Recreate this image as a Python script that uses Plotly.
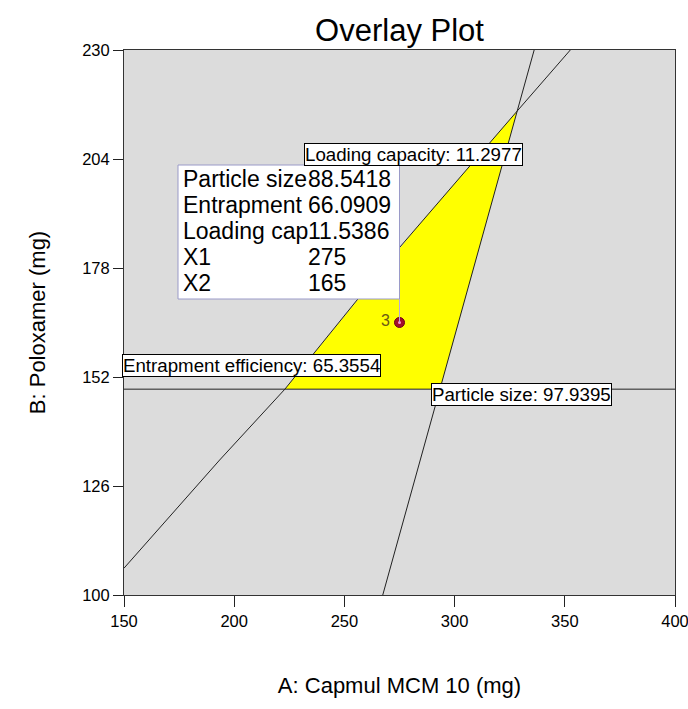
import numpy as np
import plotly.graph_objects as go

# ---- data ----
# contour lines (A: Capmul MCM 10, B: Poloxamer)
loading_A = [150.0, 193.4, 223.0, 255.7, 275.2, 328.0, 352.5]
loading_B = [106.4, 132.2, 149.1, 170.4, 183.0, 215.2, 230.0]
particle_A = [267.4, 336.1]
particle_B = [100.0, 230.0]
entrap_level_B = 149.1

x_ticks = [150, 200, 250, 300, 350, 400]
y_ticks = [100, 126, 152, 178, 204, 230]

design_X1 = 275
design_X2 = 165
design_label = "3"

tooltip_labels = ["Particle size", "Entrapment", "Loading cap", "X1", "X2"]
tooltip_values = ["88.5418", "66.0909", "11.5386", "275", "165"]

contour_labels = ["Loading capacity: 11.2977",
                  "Entrapment efficiency: 65.3554",
                  "Particle size: 97.9395"]

# ---- geometry ----
X0, X1r = 150, 400
Y0, Y1r = 100, 230
W, H = 688, 709
ml, mr, mt, mb = 124, 13, 50, 114
pw = W - ml - mr
ph = H - mt - mb


def px2x(p):
    return X0 + (p - ml) / pw * (X1r - X0)


def py2y(p):
    return Y1r - (p - mt) / ph * (Y1r - Y0)


def ppx(p):
    return (p - ml) / pw


def ppy(p):
    return 1 - (p - mt) / ph


# feasible region: between loading line (left), particle line (right), above entrap level
yy = np.linspace(Y0, Y1r, 2001)
xl = np.interp(yy, loading_B, loading_A)
xr = np.interp(yy, particle_B, particle_A)
diff = xr - xl
top_idx = np.where((diff[:-1] > 0) & (diff[1:] <= 0))[0][0]
y_top = yy[top_idx]
mask = (yy >= entrap_level_B) & (yy <= y_top)
ys = yy[mask]
poly_x = list(xl[mask]) + list(xr[mask][::-1])
poly_y = list(ys) + list(ys[::-1])

fig = go.Figure()
fig.add_trace(go.Scatter(x=poly_x, y=poly_y, fill="toself", fillcolor="#ffff00",
                         line=dict(width=0), mode="lines", hoverinfo="skip",
                         showlegend=False))
fig.add_trace(go.Scatter(x=loading_A, y=loading_B, mode="lines",
                         line=dict(color="#222222", width=1), showlegend=False))
fig.add_trace(go.Scatter(x=particle_A, y=particle_B, mode="lines",
                         line=dict(color="#222222", width=1), showlegend=False))
fig.add_trace(go.Scatter(x=[X0, X1r], y=[entrap_level_B, entrap_level_B], mode="lines",
                         line=dict(color="#222222", width=1), showlegend=False))

# tooltip box anchored at the design point
box_top = py2y(165)
box_bot = py2y(299)
box_left = px2x(178)
fig.add_shape(type="rect", x0=box_left, x1=design_X1, y0=box_bot, y1=box_top,
              line=dict(color="#9a9ac8", width=1), fillcolor="white", layer="above")
fig.add_shape(type="line", x0=design_X1, x1=design_X1, y0=box_bot, y1=design_X2,
              line=dict(color="#b8a8d8", width=1), layer="above")

fig.add_trace(go.Scatter(x=[design_X1], y=[design_X2], mode="markers",
                         marker=dict(size=10, color="#a0102c",
                                     line=dict(color="#700018", width=1)),
                         showlegend=False))
fig.add_trace(go.Scatter(x=[design_X1], y=[design_X2], mode="markers",
                         marker=dict(size=3, color="#ff90d0"), showlegend=False))

font = "Liberation Sans, Arial, sans-serif"
annotations = []
annotations.append(dict(x=design_X1, y=design_X2, xref="x", yref="y", text=design_label,
                        showarrow=False, xanchor="right", xshift=-8, yshift=2,
                        font=dict(family=font, size=16, color="#6b5a14")))
row_y0 = 179
for i, (lab, val) in enumerate(zip(tooltip_labels, tooltip_values)):
    yrow = ppy(row_y0 + 26 * i)
    annotations.append(dict(x=ppx(181), y=yrow, xref="paper", yref="paper", text=lab,
                            showarrow=False, xanchor="left", yanchor="middle",
                            font=dict(family=font, size=23, color="black")))
    annotations.append(dict(x=ppx(306), y=yrow, xref="paper", yref="paper", text=val,
                            showarrow=False, xanchor="left", yanchor="middle",
                            font=dict(family=font, size=23, color="black")))

label_pos = [(304, 154.5), (122, 365.5), (431, 394)]
for txt, (lx, ly) in zip(contour_labels, label_pos):
    annotations.append(dict(x=ppx(lx), y=ppy(ly), xref="paper", yref="paper", text=txt,
                            showarrow=False, xanchor="left", yanchor="middle",
                            bgcolor="white", bordercolor="black", borderwidth=1,
                            borderpad=0,
                            font=dict(family=font, size=18.7, color="black")))

fig.update_layout(
    width=W, height=H,
    margin=dict(l=ml, r=mr, t=mt, b=mb),
    paper_bgcolor="white", plot_bgcolor="#dcdcdc",
    title=dict(text="Overlay Plot", x=(ml + pw / 2) / W, xanchor="center",
               y=1 - 30 / H, yanchor="middle",
               font=dict(family=font, size=31, color="black")),
    annotations=annotations,
    font=dict(family=font, color="black"),
)
fig.update_xaxes(range=[X0, X1r], tickvals=x_ticks, ticks="outside", ticklen=11,
                 tickcolor="#222", showgrid=False, zeroline=False, showline=True,
                 linecolor="#333", mirror=True, linewidth=1, automargin=False,
                 ticklabeloverflow="allow",
                 tickfont=dict(family=font, size=16.5),
                 title=dict(text="A: Capmul MCM 10 (mg)", standoff=48,
                            font=dict(family=font, size=22)))
fig.update_yaxes(range=[Y0, Y1r], tickvals=y_ticks, ticks="outside", ticklen=10,
                 tickcolor="#222", showgrid=False, zeroline=False, showline=True,
                 linecolor="#333", mirror=True, linewidth=1, automargin=False,
                 ticklabeloverflow="allow",
                 tickfont=dict(family=font, size=16.5),
                 title=dict(text="B: Poloxamer (mg)", standoff=30,
                            font=dict(family=font, size=22)))

fig.write_html("out.html")
